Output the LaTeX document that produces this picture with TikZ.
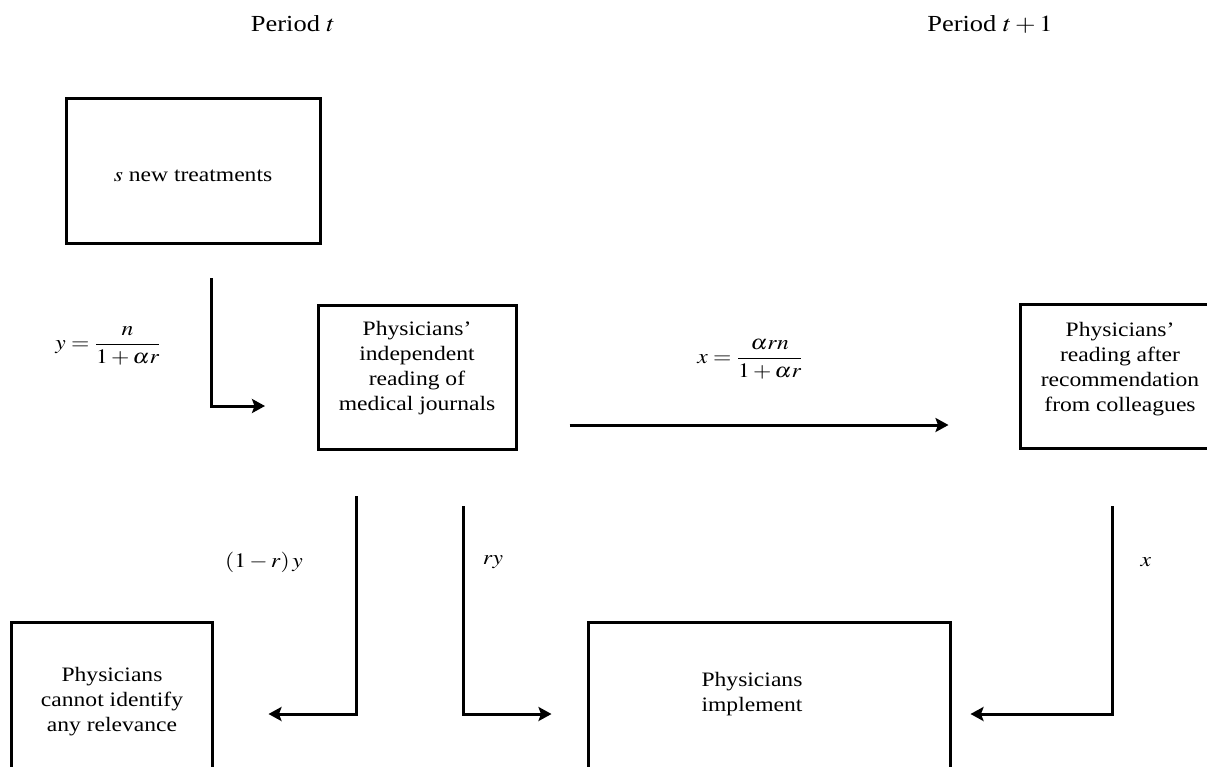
\documentclass[tikz,border=0pt]{standalone}
\usepackage{mathptmx}
\usepackage{graphicx}
\usepackage{fontspec}
\setmainfont{Liberation Serif}[FakeStretch=1.15]
\usetikzlibrary{arrows.meta}
\newcommand{\wm}[1]{\scalebox{1.15}[1]{#1}}
\begin{document}
\begin{tikzpicture}[x=1pt,y=-1pt,
  box/.style={draw,line width=3pt,inner sep=0pt},
  txt/.style={align=center,inner sep=0pt,font=\fontsize{20.5}{25}\selectfont},
  arr/.style={line width=3pt,-{Stealth[length=13pt,width=14pt,inset=2.5pt]}},
  lbl/.style={inner sep=0pt,font=\fontsize{20.5}{25}\selectfont},
  plbl/.style={inner sep=0pt,font=\fontsize{23}{27}\selectfont}]
\useasboundingbox (0,0) rectangle (1207,766);
% boxes
\node[box,minimum width=254pt,minimum height=145pt] (b1) at (193,170.5) {};
\node[txt] (t1) at (193,176) {\wm{$s$}\ new treatments};
\node[box,minimum width=198pt,minimum height=144pt] (b2) at (417,377) {};
\node[txt] (t2) at (417,368) {Physicians'\\independent\\reading of\\medical journals};
\node[box,minimum width=200pt,minimum height=144pt] (b3) at (1120,376) {};
\node[txt] (t3) at (1120,369) {Physicians'\\reading after\\recommendation\\from colleagues};
\node[box,minimum width=201pt,minimum height=168pt] (b4) at (111.5,706) {};
\node[txt] (t4) at (112,702) {Physicians\\cannot identify\\any relevance};
\node[box,minimum width=362pt,minimum height=168pt] (b5) at (769,706) {};
\node[txt] (t5) at (752,694) {Physicians\\implement};
% period labels
\node[plbl] (pt) at (293,24) {Period \wm{$t$}};
\node[plbl] (pt1) at (990,24) {Period \wm{$t+1$}};
% connector points
\coordinate (s1) at (211,278);
\coordinate (e1) at (265,406);
\coordinate (a2) at (0,425);
\coordinate (s2) at (356,496);
\coordinate (s3) at (463,506);
\coordinate (s4) at (1112,506);
\coordinate (hb) at (0,714);
% connectors
\draw[arr] (s1) |- (e1);
\draw[arr,shorten <=52pt,shorten >=70pt] (b2.east |- a2) -- (b3.west |- a2);
\draw[arr,shorten >=55pt] (s2) |- (b4.east |- hb);
\draw[arr,shorten >=35pt] (s3) |- (b5.west |- hb);
\draw[arr,shorten >=19pt] (s4) |- (b5.east |- hb);
% flow labels
\node[lbl] (ly) at (108,346) {\wm{$y=\displaystyle\frac{n}{1+\alpha r}$}};
\node[lbl] (lx) at (750,359) {\wm{$x=\displaystyle\frac{\alpha rn}{1+\alpha r}$}};
\node[lbl] (l1r) at (264,562) {\wm{$(1-r)\,y$}};
\node[lbl] (lry) at (493,562) {\wm{$ry$}};
\node[lbl] (lxx) at (1146,562) {\wm{$x$}};
\end{tikzpicture}
\end{document}
